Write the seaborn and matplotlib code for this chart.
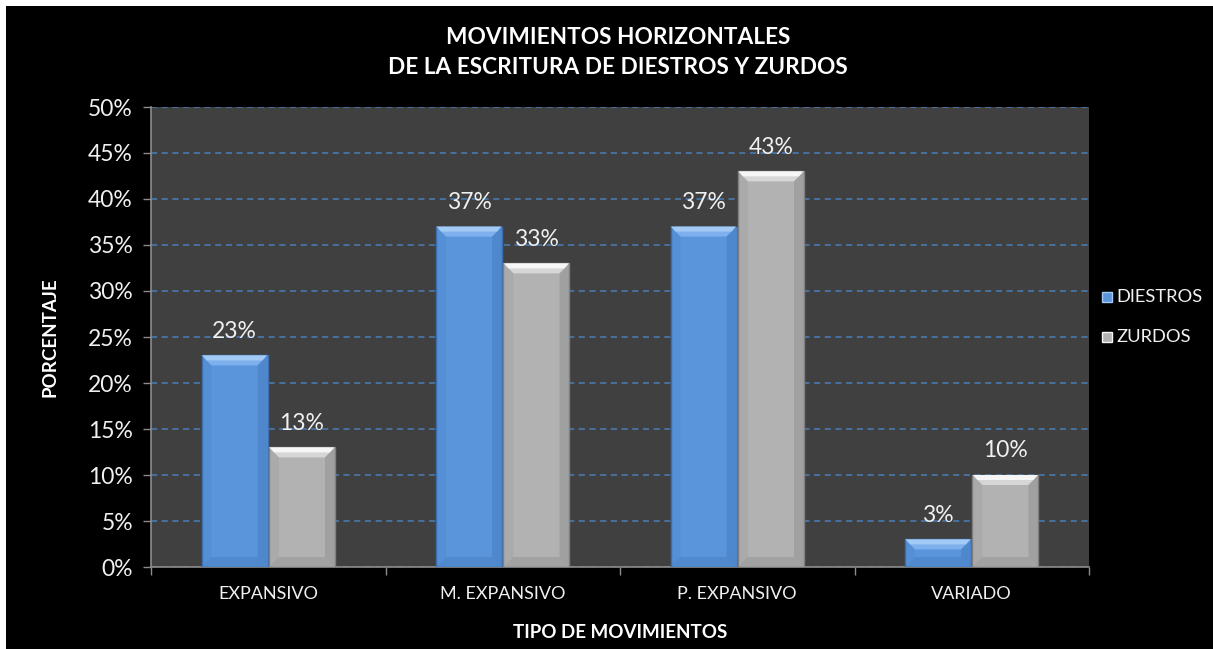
import matplotlib
matplotlib.use("Agg")
import matplotlib.pyplot as plt
from matplotlib.patches import Rectangle, Polygon
from matplotlib.ticker import FixedLocator, PercentFormatter
import numpy as np
import pandas as pd
import seaborn as sns

# Data
categorias = ["EXPANSIVO", "M. EXPANSIVO", "P. EXPANSIVO", "VARIADO"]
diestros = [23, 37, 37, 3]
zurdos = [13, 33, 43, 10]
series = ["DIESTROS", "ZURDOS"]
y_ticks = [0, 5, 10, 15, 20, 25, 30, 35, 40, 45, 50]

df = pd.DataFrame({
    "tipo": categorias * 2,
    "grupo": [series[0]] * len(categorias) + [series[1]] * len(categorias),
    "valor": diestros + zurdos,
})

sns.set_theme(style="dark")
plt.rcParams["font.family"] = ["Lato", "DejaVu Sans"]

W, H = 1213, 649
fig = plt.figure(figsize=(W / 100, H / 100), dpi=100, facecolor="black")
# thin white margin on the top and left edges
fig.patches.append(Rectangle((0, 1 - 6 / H), 1, 6 / H, transform=fig.transFigure,
                             facecolor="white", edgecolor="none", zorder=0))
fig.patches.append(Rectangle((0, 0), 6 / W, 1, transform=fig.transFigure,
                             facecolor="white", edgecolor="none", zorder=0))

ax = fig.add_axes([151 / W, 1 - 567 / H, (1089 - 151) / W, (567 - 107) / H])
ax.set_zorder(2)
ax.set_facecolor("#404040")

face = {"DIESTROS": "#5a95dc", "ZURDOS": "#b2b2b2"}
light = {"DIESTROS": "#a2caf4", "ZURDOS": "#f6f6f6"}
mid = {"DIESTROS": "#7db0ec", "ZURDOS": "#d6d6d6"}
dark = {"DIESTROS": "#3b6eb0", "ZURDOS": "#7f7f7f"}
edge = {"DIESTROS": "#3d6fae", "ZURDOS": "#808080"}

sns.barplot(data=df, x="tipo", y="valor", hue="grupo", order=categorias,
            hue_order=series, palette=face, width=0.575, gap=0.02,
            saturation=1, legend=False, ax=ax, zorder=3)

ax.set_ylim(0, 50)
ax.set_xlim(-0.5, len(categorias) - 0.5)

# bevelled bar look
fig.canvas.draw()
inv = ax.transData.inverted()
px_x = abs(inv.transform((1, 0))[0] - inv.transform((0, 0))[0])
px_y = abs(inv.transform((0, 1))[1] - inv.transform((0, 0))[1])
bw = 10
bars = list(ax.patches)
for i, p in enumerate(bars):
    grp = series[i // len(categorias)]
    x0, w, h = p.get_x(), p.get_width(), p.get_height()
    p.set_edgecolor(edge[grp])
    p.set_linewidth(1.0)
    dx, dy = bw * px_x, min(bw * px_y, h / 2)
    x1 = x0 + w
    # top highlight (two-step gradient)
    ax.add_patch(Polygon([(x0, h), (x1, h), (x1 - dx, h - dy), (x0 + dx, h - dy)],
                         closed=True, facecolor=mid[grp], edgecolor="none", zorder=4))
    ax.add_patch(Polygon([(x0 + 1 * px_x, h), (x1 - 1 * px_x, h),
                          (x1 - dx / 2, h - dy / 2), (x0 + dx / 2, h - dy / 2)],
                         closed=True, facecolor=light[grp], edgecolor="none", zorder=4))
    # side and bottom shading
    ax.add_patch(Polygon([(x0, h), (x0 + dx, h - dy), (x0 + dx, dy), (x0, 0)],
                         closed=True, facecolor=dark[grp], edgecolor="none", alpha=0.15, zorder=4))
    ax.add_patch(Polygon([(x1, h), (x1 - dx, h - dy), (x1 - dx, dy), (x1, 0)],
                         closed=True, facecolor=dark[grp], edgecolor="none", alpha=0.35, zorder=4))
    ax.add_patch(Polygon([(x0, 0), (x0 + dx, dy), (x1 - dx, dy), (x1, 0)],
                         closed=True, facecolor=dark[grp], edgecolor="none", alpha=0.3, zorder=4))
    ax.annotate(f"{h:.0f}%", (x0 + w / 2, h), xytext=(0, 10), textcoords="offset points",
                ha="center", va="bottom", color="#f0f0f0", fontsize=16.5, zorder=5)

# axes styling
ax.yaxis.set_major_locator(FixedLocator(y_ticks))
ax.yaxis.set_major_formatter(PercentFormatter(decimals=0))
ax.grid(axis="y", color="#4a7ebb", linestyle=(0, (4, 3)), linewidth=1.1, zorder=1)
ax.grid(axis="x", visible=False)
ax.set_axisbelow(True)
for s in ["top", "right"]:
    ax.spines[s].set_visible(False)
for s in ["left", "bottom"]:
    ax.spines[s].set_visible(True)
    ax.spines[s].set_color("#8c8c8c")
    ax.spines[s].set_linewidth(1.2)
ax.tick_params(axis="y", colors="#8c8c8c", labelcolor="#f0f0f0", labelsize=16.5,
               length=6, width=1, direction="out", left=True, pad=7)
ax.tick_params(axis="x", which="major", length=0, labelcolor="#f0f0f0", labelsize=13, pad=14)
ax.set_xticks(np.arange(-0.5, len(categorias) + 0.5, 1), minor=True)
ax.tick_params(axis="x", which="minor", length=6, color="#8c8c8c", width=1, bottom=True)

ax.set_xlabel("TIPO DE MOVIMIENTOS", color="white", fontsize=13.5, fontweight="bold",
              va="center")
ax.xaxis.set_label_coords(0.5, -(632 - 567) / (567 - 107))
ax.set_ylabel("PORCENTAJE", color="white", fontsize=13.5, fontweight="bold", va="center")
ax.yaxis.set_label_coords(-(151 - 50) / (1089 - 151), 0.5)

fig.text(0.5095, 1 - 37 / H, "MOVIMIENTOS HORIZONTALES", ha="center", va="center",
         color="white", fontsize=16.3, fontweight="bold")
fig.text(0.5095, 1 - 68 / H, "DE LA ESCRITURA DE DIESTROS Y ZURDOS", ha="center", va="center",
         color="white", fontsize=16.3, fontweight="bold")

# legend
for j, grp in enumerate(series):
    yc = 1 - (297 + 40 * j) / H
    sq = 10
    fig.patches.append(Rectangle((1102 / W, yc - sq / 2 / H), sq / W, sq / H,
                                 transform=fig.transFigure, facecolor=face[grp],
                                 edgecolor=light[grp], linewidth=1, zorder=3))
    fig.text(1116 / W, yc, grp, ha="left", va="center", color="#f0f0f0", fontsize=13.2)

fig.savefig("out.png", dpi=100, facecolor=fig.get_facecolor())
